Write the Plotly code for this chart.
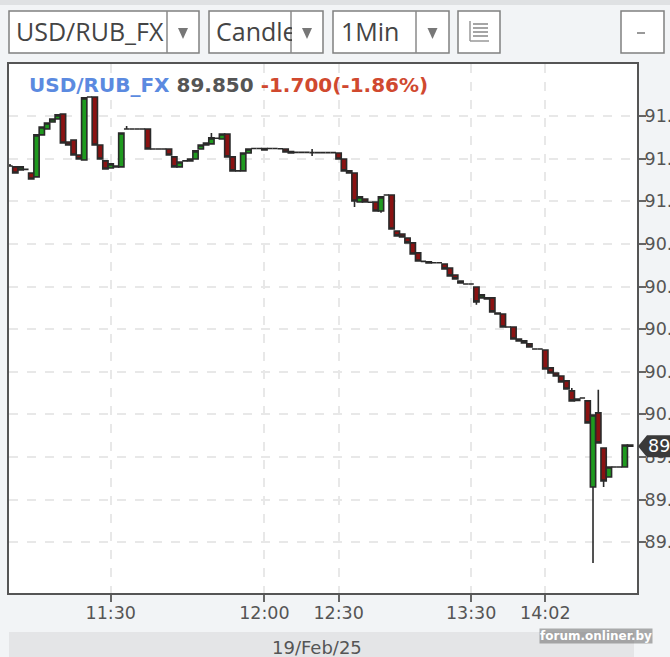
import plotly.graph_objects as go

slots = list(range(118))
opens = [
 91.166,91.162,91.148,91.150,91.133,91.115,91.312,91.340,91.373,91.387,
 91.410,91.279,91.288,91.218,91.194,91.490,91.490,91.265,91.190,91.157,
 91.162,91.162,91.340,91.340,91.340,91.340,91.340,91.246,91.246,91.246,
 91.246,91.209,91.162,91.190,91.190,91.199,91.246,91.265,91.270,91.296,
 91.293,91.316,91.209,91.143,91.143,91.227,91.248,91.248,91.248,91.248,
 91.248,91.247,91.246,91.234,91.230,91.230,91.230,91.229,91.229,91.229,
 91.229,91.229,91.227,91.199,91.143,91.133,90.997,91.011,90.996,90.997,
 90.955,91.030,91.030,90.861,90.847,90.828,90.805,90.758,90.718,90.716,
 90.712,90.712,90.706,90.687,90.654,90.626,90.612,90.612,90.598,90.547,
 90.547,90.547,90.476,90.471,90.410,90.410,90.354,90.345,90.331,90.307,
 90.307,90.302,90.218,90.194,90.180,90.157,90.110,90.072,90.077,90.063,
 89.659,90.007,89.842,89.706,89.753,89.753,89.753,89.856]
closes = [
 91.166,91.133,91.162,91.150,91.105,91.312,91.349,91.368,91.387,91.406,
 91.274,91.265,91.218,91.199,91.486,91.490,91.265,91.199,91.152,91.176,
 91.166,91.321,91.340,91.340,91.340,91.340,91.246,91.246,91.246,91.246,
 91.218,91.162,91.185,91.190,91.199,91.237,91.265,91.274,91.298,91.296,
 91.316,91.209,91.143,91.143,91.227,91.246,91.248,91.248,91.241,91.248,
 91.248,91.247,91.232,91.227,91.230,91.230,91.230,91.229,91.229,91.229,
 91.229,91.229,91.199,91.143,91.133,91.002,91.021,90.997,90.996,90.955,
 91.021,91.030,90.870,90.838,90.833,90.805,90.753,90.720,90.718,90.711,
 90.712,90.712,90.683,90.650,90.636,90.617,90.612,90.612,90.528,90.561,
 90.542,90.481,90.471,90.410,90.410,90.354,90.345,90.335,90.316,90.307,
 90.307,90.213,90.194,90.180,90.152,90.119,90.063,90.065,90.077,89.960,
 89.997,89.866,89.687,89.753,89.753,89.753,89.856,89.850]
wick_highs = {0: 91.176, 22: 91.354, 38: 91.321, 57: 91.246, 106: 90.124, 111: 90.115}
wick_lows = {57: 91.213, 65: 90.974, 70: 90.946, 88: 90.514, 110: 89.302, 112: 89.659}
highs = [max(o, c, wick_highs.get(i, o)) for i, (o, c) in enumerate(zip(opens, closes))]
lows = [min(o, c, wick_lows.get(i, o)) for i, (o, c) in enumerate(zip(opens, closes))]

x_tick_slots = [19, 48, 62, 87, 101]
x_tick_labels = ["11:30", "12:00", "12:30", "13:30", "14:02"]
y_ticks = [91.4, 91.2, 91.0, 90.8, 90.6, 90.4, 90.2, 90.0, 89.8, 89.6, 89.4]
symbol = "USD/RUB_FX"
last_price = 89.850
change = "-1.700(-1.86%)"
date_label = "19/Feb/25"

W, H = 670, 657
L, R, T, B = 9, 637, 64, 593
def px(x): return (x - L) / (R - L)
def py(y): return (B - y) / (B - T)

shapes, annotations = [], []
def rect(x0, y0, x1, y1, fill, line=None, lw=0):
    shapes.append(dict(type="rect", xref="paper", yref="paper", x0=px(x0), x1=px(x1), y0=py(y0), y1=py(y1),
                       fillcolor=fill, line=dict(color=line or fill, width=lw), layer="above"))
def seg(x0, y0, x1, y1, color="#8a8a8a", lw=1.5):
    shapes.append(dict(type="line", xref="paper", yref="paper", x0=px(x0), x1=px(x1), y0=py(y0), y1=py(y1),
                       line=dict(color=color, width=lw), layer="above"))
def text(x, y, s, size, color="#444", family="Open Sans", xanchor="left", width=None, bg=None):
    a = dict(xref="paper", yref="paper", x=px(x), y=py(y), text=s, showarrow=False, xanchor=xanchor, yanchor="middle",
             font=dict(size=size, color=color, family=family), borderpad=0, align="left")
    if width: a["width"] = width
    if bg: a["bgcolor"] = bg
    annotations.append(a)
def arrow(x, y):
    shapes.append(dict(type="path", xref="paper", yref="paper",
                       path=f"M {px(x-5)} {py(y-5)} L {px(x+5)} {py(y-5)} L {px(x)} {py(y+6)} Z",
                       fillcolor="#777", line=dict(width=0), layer="above"))

# top strip and date band
rect(0, 0, 670, 5, "#dfe1e3")
rect(9, 632, 634, 657, "#e4e5e7")

# toolbar
for x0, x1, d in [(9, 199, 167), (209, 323, 291), (333, 449, 416)]:
    rect(x0, 11, x1, 53, "#ffffff", "#808080", 1.5)
    seg(d, 11, d, 53)
    arrow((d + x1) / 2, 33)
rect(458, 11, 500, 53, "#ffffff", "#808080", 1.5)
rect(621, 11, 664, 53, "#ffffff", "#808080", 1.5)
seg(637, 33, 645, 33, "#777", 1.5)
seg(470, 21, 470, 41, "#999", 1.5)
seg(470, 41, 489, 41, "#999", 1.5)
for yy in (24, 28, 32, 36):
    seg(473, yy, 488, yy, "#a5a5a5", 2)

text(15, 31, symbol, 25, "#444", width=150)
text(215, 31, "Candle", 25, "#444", width=76)
text(340, 31, "1Min", 25, "#444", width=72)

text(28, 85,
     f"<b><span style='color:#5b8ae0'>{symbol}</span> <span style='color:#555'>{last_price:.3f}</span> "
     f"<span style='color:#d0492f'>{change}</span></b>", 20, family="DejaVu Sans")
text(317, 647, date_label, 18, "#555", "DejaVu Sans", xanchor="center")
text(596, 636, "<b>forum.onliner.by</b>", 12, "#ffffff", "DejaVu Sans", xanchor="center", bg="rgba(110,110,110,0.55)")

# last-price flag
shapes.append(dict(type="path", xref="paper", yref="y", xsizemode="pixel", ysizemode="pixel",
                   xanchor=1, yanchor=last_price, path="M 1 0 L 10 -11 L 40 -11 L 40 11 L 10 11 Z",
                   fillcolor="#3a3a3a", line=dict(width=0), layer="above"))
annotations.append(dict(xref="paper", yref="y", x=px(647), y=last_price, text=f"{last_price:.3f}", showarrow=False,
                        xanchor="left", yanchor="middle", width=23, align="left", borderpad=0,
                        font=dict(size=17.5, color="#ffffff", family="DejaVu Sans")))

fig = go.Figure(go.Candlestick(
    x=slots, open=opens, high=highs, low=lows, close=closes,
    increasing=dict(line=dict(color="#2a2a2a", width=1.6), fillcolor="#1f9a1f"),
    decreasing=dict(line=dict(color="#2a2a2a", width=1.6), fillcolor="#8a1212"),
    whiskerwidth=0, hoverinfo="skip"))

axis_common = dict(showline=True, linecolor="#555", linewidth=2, mirror=True, ticks="outside", ticklen=7,
                   tickcolor="#666", tickwidth=2, showgrid=True, gridcolor="#e8e8e8", griddash="dash", gridwidth=1.5,
                   zeroline=False, automargin=False, tickfont=dict(family="DejaVu Sans", size=17.5, color="#555"))
fig.update_layout(
    width=W, height=H, autosize=False,
    margin=dict(l=L, r=W - R, t=T, b=H - B, pad=0, autoexpand=False),
    paper_bgcolor="#f2f4f6", plot_bgcolor="#ffffff",
    showlegend=False, boxgap=0, boxgroupgap=0,
    shapes=shapes, annotations=annotations,
    xaxis=dict(axis_common, range=[-0.19, 118.3], tickmode="array", tickvals=x_tick_slots, ticktext=x_tick_labels,
               ticklabelstandoff=-4, rangeslider=dict(visible=False)),
    yaxis=dict(axis_common, side="right", range=[89.161, 91.645], tickmode="array", tickvals=y_ticks,
               ticklabelstandoff=-5, ticktext=[f"{v:.1f}" for v in y_ticks]),
)
fig.write_html("out.html", config=dict(displayModeBar=False),
               post_script="document.body.style.margin='0';document.body.style.background='#f2f4f6';")
